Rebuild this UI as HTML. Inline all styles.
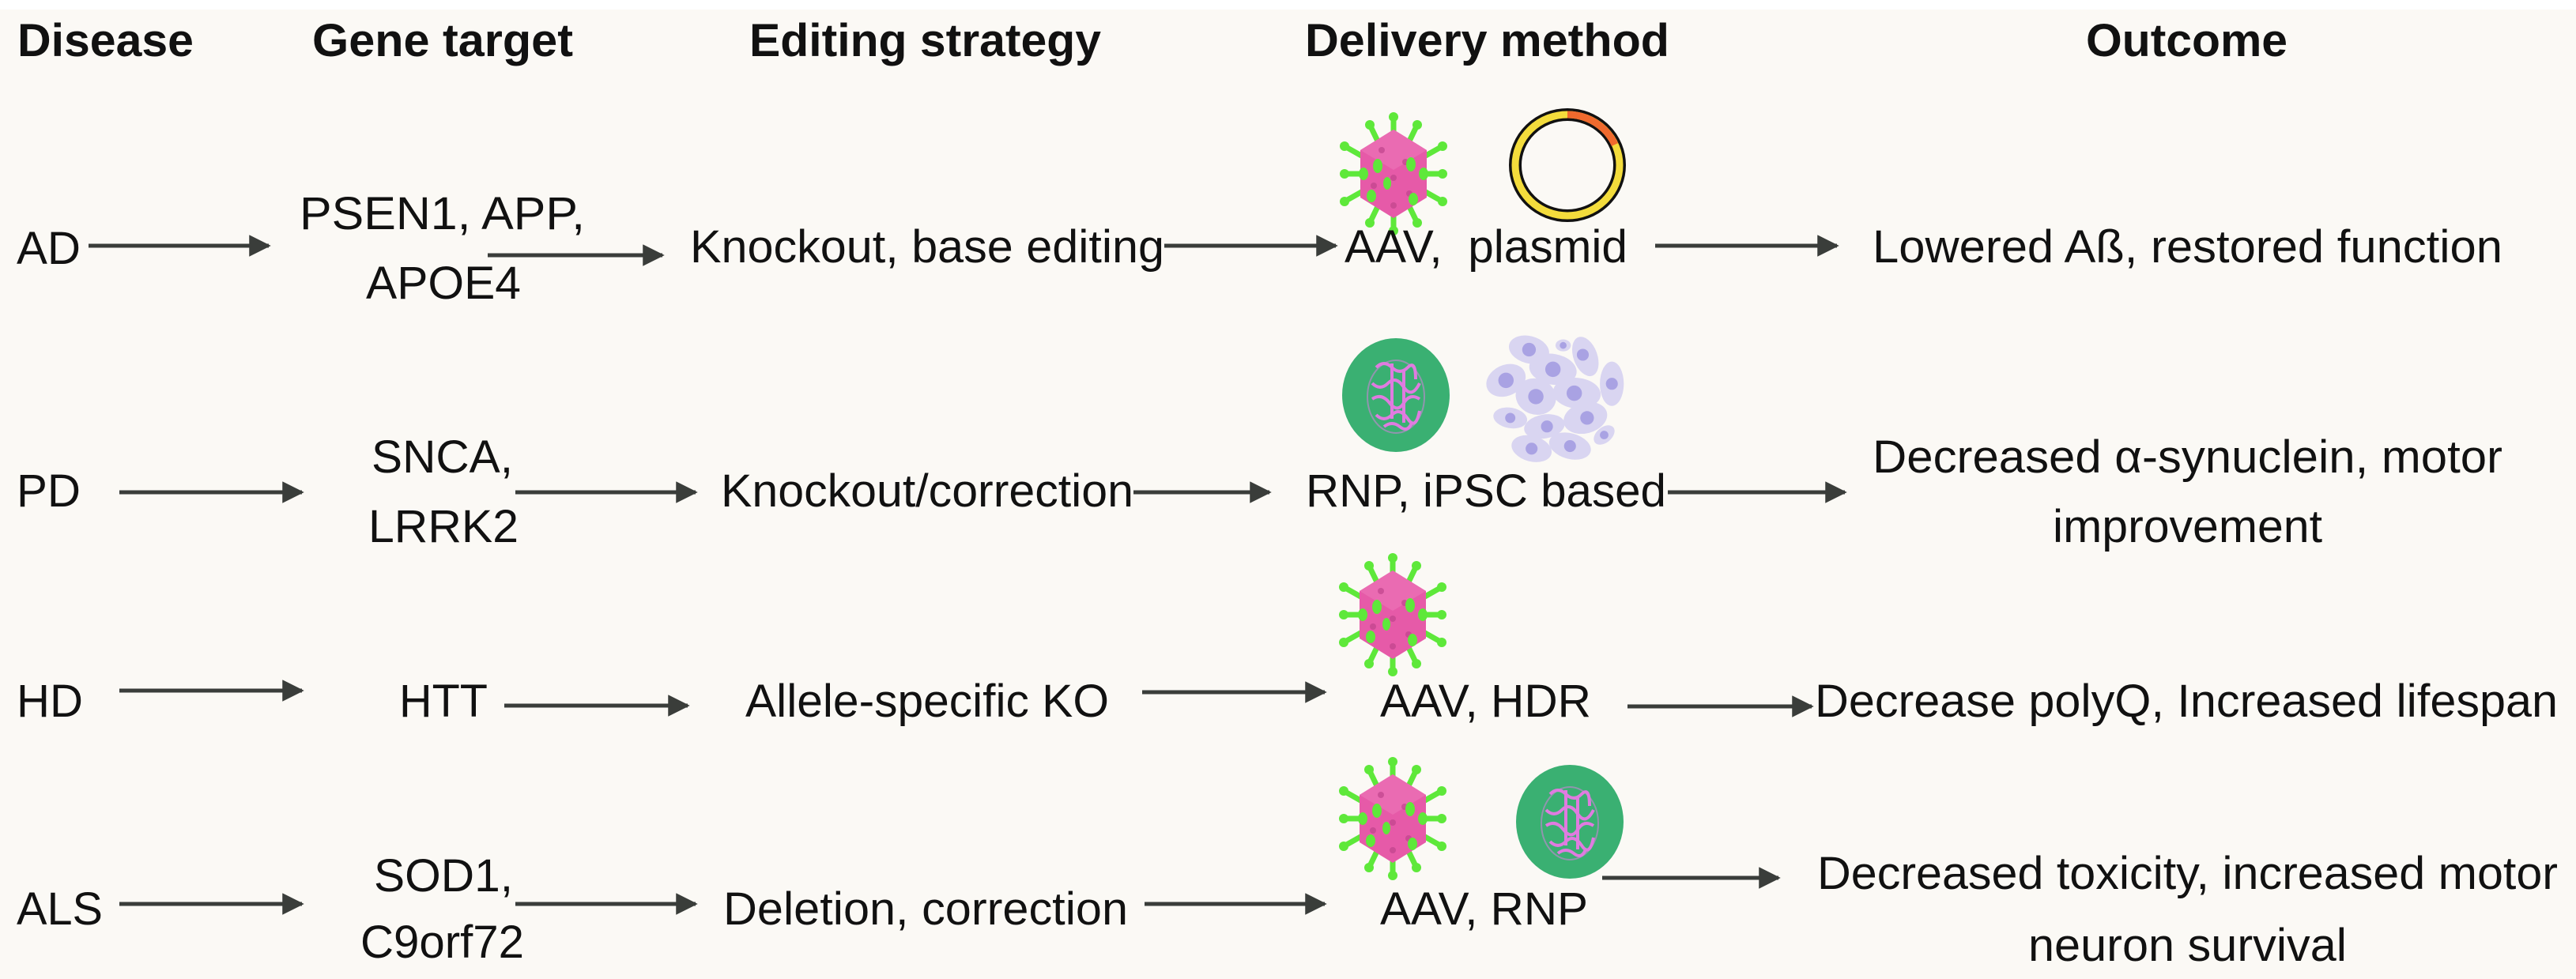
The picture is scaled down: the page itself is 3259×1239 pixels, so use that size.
<!DOCTYPE html>
<html><head><meta charset="utf-8"><style>
html,body{margin:0;padding:0;background:#fbf9f5;}
svg{display:block;}
text{font-family:"Liberation Sans",Arial,sans-serif;fill:#111;}
.h{font-weight:bold;font-size:58px;}
.t{font-size:58px;}
</style></head><body>
<svg width="3259" height="1239" viewBox="0 0 3259 1239" xmlns="http://www.w3.org/2000/svg">
<defs>
<g id="aav">
 <g stroke="#5ee83a" stroke-width="7" stroke-linecap="round">
  <line x1="0" y1="0" x2="0" y2="-72"/><line x1="0" y1="0" x2="0" y2="72"/>
  <line x1="0" y1="0" x2="-30" y2="-62"/><line x1="0" y1="0" x2="30" y2="-62"/>
  <line x1="0" y1="0" x2="-30" y2="62"/><line x1="0" y1="0" x2="30" y2="62"/>
  <line x1="0" y1="0" x2="-62" y2="-35"/><line x1="0" y1="0" x2="62" y2="-35"/>
  <line x1="0" y1="0" x2="-62" y2="35"/><line x1="0" y1="0" x2="62" y2="35"/>
  <line x1="0" y1="0" x2="-62" y2="0"/><line x1="0" y1="0" x2="62" y2="0"/>
 </g>
 <g fill="#5ee83a">
  <circle cx="0" cy="-72" r="6"/><circle cx="0" cy="72" r="6"/>
  <circle cx="-30" cy="-62" r="6"/><circle cx="30" cy="-62" r="6"/>
  <circle cx="-30" cy="62" r="6"/><circle cx="30" cy="62" r="6"/>
  <circle cx="-62" cy="-35" r="6"/><circle cx="62" cy="-35" r="6"/>
  <circle cx="-62" cy="35" r="6"/><circle cx="62" cy="35" r="6"/>
  <circle cx="-62" cy="0" r="6"/><circle cx="62" cy="0" r="6"/>
 </g>
 <polygon points="0,-56 42,-30 42,30 0,56 -42,30 -42,-30" fill="#e65aa8"/>
 <polygon points="0,-56 42,-30 0,-5 -42,-30" fill="#ea6bb2"/>
 <g fill="#c0448c" opacity="0.7">
  <circle cx="-15" cy="-30" r="4"/><circle cx="15" cy="-15" r="4"/><circle cx="0" cy="5" r="4"/>
  <circle cx="-25" cy="15" r="4"/><circle cx="20" cy="25" r="4"/><circle cx="0" cy="40" r="4"/>
 </g>
 <g fill="#5ee83a">
  <ellipse cx="-20" cy="-10" rx="6" ry="9"/><ellipse cx="22" cy="-12" rx="6" ry="9"/>
  <ellipse cx="-28" cy="28" rx="6" ry="8"/><ellipse cx="25" cy="32" rx="6" ry="8"/>
  <ellipse cx="-8" cy="12" rx="5" ry="8"/><ellipse cx="-38" cy="0" rx="6" ry="8"/><ellipse cx="38" cy="0" rx="6" ry="8"/>
 </g>
</g>
<g id="rnp">
 <ellipse cx="0" cy="0" rx="68" ry="72" fill="#3ab072"/>
 <ellipse cx="0" cy="2" rx="36" ry="46" fill="none" stroke="#b58ac8" stroke-width="2" opacity="0.7"/>
 <g fill="none" stroke="#e07be0" stroke-width="4">
  <path d="M-25,-35 q10,-10 20,0 t20,0 t10,15 M-30,-15 q10,10 20,0 t20,5 t20,-5 M-30,5 q12,-8 22,5 t18,0 t20,-5 M-25,25 q10,10 20,0 t20,5 t15,-10 M-15,40 q10,-8 20,0 t15,-5 M-5,-40 v70 M10,-30 v65"/>
 </g>
</g>
<marker id="ah" viewBox="0 0 10 10" refX="9" refY="5" markerWidth="6" markerHeight="5.5" orient="auto" markerUnits="strokeWidth">
 <path d="M0,0 L10,5 L0,10 z" fill="#3a3d3a"/>
</marker>
</defs>
<rect x="0" y="0" width="3259" height="12" fill="#ffffff"/>

<!-- headers -->
<text class="h" x="22" y="71" textLength="223" lengthAdjust="spacingAndGlyphs">Disease</text>
<text class="h" x="395" y="71" textLength="330" lengthAdjust="spacingAndGlyphs">Gene target</text>
<text class="h" x="948" y="71" textLength="445" lengthAdjust="spacingAndGlyphs">Editing strategy</text>
<text class="h" x="1651" y="71" textLength="461" lengthAdjust="spacingAndGlyphs">Delivery method</text>
<text class="h" x="2639" y="71" textLength="255" lengthAdjust="spacingAndGlyphs">Outcome</text>

<!-- arrows -->
<g stroke="#3a3d3a" stroke-width="5" marker-end="url(#ah)">
 <line x1="112" y1="311" x2="340" y2="311"/>
 <line x1="617" y1="323" x2="838" y2="323"/>
 <line x1="1473" y1="311" x2="1690" y2="311"/>
 <line x1="2094" y1="311" x2="2324" y2="311"/>
 <line x1="151" y1="623" x2="382" y2="623"/>
 <line x1="652" y1="623" x2="880" y2="623"/>
 <line x1="1434" y1="623" x2="1606" y2="623"/>
 <line x1="2110" y1="623" x2="2334" y2="623"/>
 <line x1="151" y1="874" x2="382" y2="874"/>
 <line x1="638" y1="893" x2="870" y2="893"/>
 <line x1="1445" y1="876" x2="1676" y2="876"/>
 <line x1="2059" y1="894" x2="2292" y2="894"/>
 <line x1="151" y1="1144" x2="382" y2="1144"/>
 <line x1="652" y1="1144" x2="880" y2="1144"/>
 <line x1="1448" y1="1144" x2="1676" y2="1144"/>
 <line x1="2027" y1="1111" x2="2250" y2="1111"/>
</g>

<!-- icons -->
<use href="#aav" x="1763" y="220"/>
<use href="#aav" x="1762" y="778"/>
<use href="#aav" x="1762" y="1036"/>
<use href="#rnp" x="1766" y="500"/>
<use href="#rnp" x="1986" y="1040"/>
<g>
 <ellipse cx="1983" cy="209" rx="66" ry="64" fill="none" stroke="#111" stroke-width="16"/>
 <ellipse cx="1983" cy="209" rx="66" ry="64" fill="none" stroke="#f3dc3c" stroke-width="9"/>
 <path d="M1983,145 A66,64 0 0 1 2043,183" fill="none" stroke="#ef6a2e" stroke-width="9"/>
</g>
<g transform="translate(1969 503) scale(1.08) translate(-1969 -503)">
<g fill="#d9d5f1">
 <ellipse cx="1937" cy="447" rx="24" ry="16" transform="rotate(15 1937 447)"/>
 <ellipse cx="1977" cy="442" rx="9" ry="7"/>
 <ellipse cx="2003" cy="455" rx="14" ry="24" transform="rotate(-20 2003 455)"/>
 <ellipse cx="1965" cy="470" rx="28" ry="18" transform="rotate(10 1965 470)"/>
 <ellipse cx="1910" cy="483" rx="24" ry="18" transform="rotate(-25 1910 483)"/>
 <ellipse cx="2034" cy="487" rx="14" ry="26"/>
 <ellipse cx="1945" cy="502" rx="24" ry="21" transform="rotate(20 1945 502)"/>
 <ellipse cx="1993" cy="498" rx="28" ry="18" transform="rotate(5 1993 498)"/>
 <ellipse cx="1915" cy="527" rx="20" ry="12" transform="rotate(10 1915 527)"/>
 <ellipse cx="1955" cy="537" rx="24" ry="14" transform="rotate(-10 1955 537)"/>
 <ellipse cx="2003" cy="527" rx="26" ry="18" transform="rotate(-15 2003 527)"/>
 <ellipse cx="2025" cy="547" rx="14" ry="9" transform="rotate(-40 2025 547)"/>
 <ellipse cx="1940" cy="563" rx="24" ry="15" transform="rotate(15 1940 563)"/>
 <ellipse cx="1985" cy="560" rx="25" ry="15" transform="rotate(15 1985 560)"/>
</g>
<g fill="#a9a2e3">
 <circle cx="1937" cy="447" r="8"/><circle cx="1977" cy="442" r="4"/><circle cx="2000" cy="453" r="7"/>
 <circle cx="1965" cy="470" r="9"/><circle cx="1910" cy="483" r="9"/><circle cx="2034" cy="487" r="7"/>
 <circle cx="1945" cy="502" r="9"/><circle cx="1990" cy="498" r="9"/><circle cx="1915" cy="527" r="6"/>
 <circle cx="1958" cy="537" r="7"/><circle cx="2005" cy="527" r="8"/><circle cx="2025" cy="547" r="5"/>
 <circle cx="1940" cy="563" r="7"/><circle cx="1985" cy="560" r="7"/>
</g>
</g>

<!-- row 1 -->
<text class="t" x="21" y="334" textLength="81" lengthAdjust="spacingAndGlyphs">AD</text>
<text class="t" x="379" y="290" textLength="361" lengthAdjust="spacingAndGlyphs">PSEN1, APP,</text>
<text class="t" x="463" y="378" textLength="196" lengthAdjust="spacingAndGlyphs">APOE4</text>
<text class="t" x="873" y="332" textLength="600" lengthAdjust="spacingAndGlyphs">Knockout, base editing</text>
<text class="t" x="1701" y="332" textLength="358" lengthAdjust="spacingAndGlyphs" xml:space="preserve">AAV,  plasmid</text>
<text class="t" x="2369" y="332" textLength="797" lengthAdjust="spacingAndGlyphs">Lowered Aß, restored function</text>

<!-- row 2 -->
<text class="t" x="21" y="641" textLength="81" lengthAdjust="spacingAndGlyphs">PD</text>
<text class="t" x="470" y="598" textLength="179" lengthAdjust="spacingAndGlyphs">SNCA,</text>
<text class="t" x="466" y="686" textLength="190" lengthAdjust="spacingAndGlyphs">LRRK2</text>
<text class="t" x="912" y="641" textLength="522" lengthAdjust="spacingAndGlyphs">Knockout/correction</text>
<text class="t" x="1652" y="641" textLength="456" lengthAdjust="spacingAndGlyphs">RNP, iPSC based</text>
<text class="t" x="2369" y="598" textLength="797" lengthAdjust="spacingAndGlyphs">Decreased α-synuclein, motor</text>
<text class="t" x="2597" y="686" textLength="341" lengthAdjust="spacingAndGlyphs">improvement</text>

<!-- row 3 -->
<text class="t" x="21" y="907" textLength="84" lengthAdjust="spacingAndGlyphs">HD</text>
<text class="t" x="505" y="907" textLength="112" lengthAdjust="spacingAndGlyphs">HTT</text>
<text class="t" x="943" y="907" textLength="460" lengthAdjust="spacingAndGlyphs">Allele-specific KO</text>
<text class="t" x="1746" y="907" textLength="267" lengthAdjust="spacingAndGlyphs">AAV, HDR</text>
<text class="t" x="2296" y="907" textLength="940" lengthAdjust="spacingAndGlyphs">Decrease polyQ, Increased lifespan</text>

<!-- row 4 -->
<text class="t" x="21" y="1170" textLength="109" lengthAdjust="spacingAndGlyphs">ALS</text>
<text class="t" x="473" y="1128" textLength="176" lengthAdjust="spacingAndGlyphs">SOD1,</text>
<text class="t" x="456" y="1212" textLength="207" lengthAdjust="spacingAndGlyphs">C9orf72</text>
<text class="t" x="915" y="1170" textLength="512" lengthAdjust="spacingAndGlyphs">Deletion, correction</text>
<text class="t" x="1746" y="1170" textLength="263" lengthAdjust="spacingAndGlyphs">AAV, RNP</text>
<text class="t" x="2299" y="1125" textLength="937" lengthAdjust="spacingAndGlyphs">Decreased toxicity, increased motor</text>
<text class="t" x="2566" y="1216" textLength="403" lengthAdjust="spacingAndGlyphs">neuron survival</text>
</svg>
</body></html>
